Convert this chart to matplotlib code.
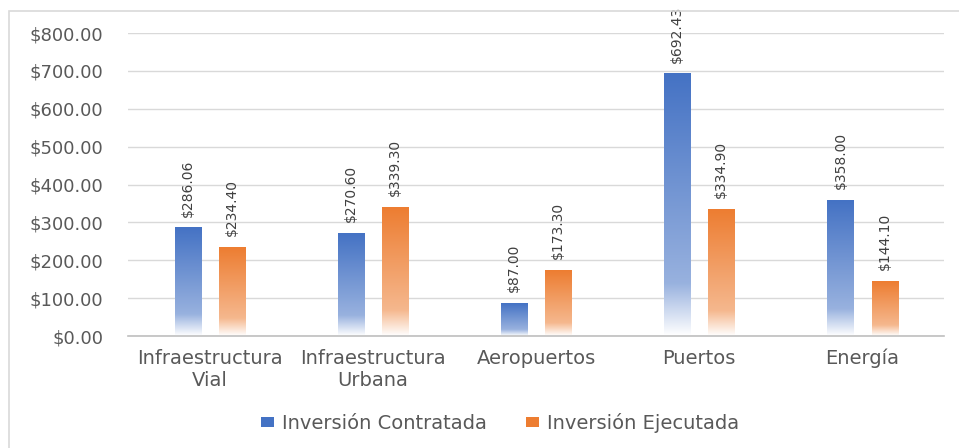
import matplotlib
matplotlib.use('Agg')
import matplotlib.pyplot as plt
import numpy as np
from matplotlib.colors import to_rgb
from matplotlib.patches import Rectangle

# data
categories = ['Infraestructura\nVial', 'Infraestructura\nUrbana', 'Aeropuertos', 'Puertos', 'Energía']
contratada = [286.06, 270.60, 87.00, 692.43, 358.00]
ejecutada = [234.40, 339.30, 173.30, 334.90, 144.10]
series_names = ['Inversión Contratada', 'Inversión Ejecutada']
series_colors = ['#4472C4', '#ED7D31']
yticks = [0, 100, 200, 300, 400, 500, 600, 700, 800]

TEXT_GRAY = '#595959'
GRID_GRAY = '#D9D9D9'


def gradient_image(color):
    # solid at the top, lighter toward the bottom, white at the base
    t = np.linspace(0, 1, 256)
    f = np.where(t < 0.8, 1 - 0.45 * (t / 0.8), 0.55 * (1 - (t - 0.8) / 0.2))
    rgb = np.array(to_rgb(color))
    img = f[:, None] * rgb[None, :] + (1 - f[:, None]) * np.ones(3)[None, :]
    return img[:, None, :]


def draw_gradient_bars(ax, xs, values, width, color):
    img = gradient_image(color)
    for x, v in zip(xs, values):
        left = x - width / 2
        ax.imshow(img, extent=(left, left + width, 0, v), origin='upper',
                  aspect='auto', zorder=2, interpolation='bilinear')
        ax.annotate(f'${v:,.2f}', xy=(x, v), xytext=(0, 8), textcoords='offset points',
                    rotation=90, ha='center', va='bottom', fontsize=10,
                    color='#404040')


fig = plt.figure(figsize=(9.59, 4.48), dpi=100)
ax = fig.add_axes([0.1335, 0.25, 0.851, 0.6763])

# chart border
fig.patches.append(Rectangle((9 / 959, -0.05), 1.0, 1 - 11 / 448 + 0.05, transform=fig.transFigure,
                             fill=False, edgecolor=GRID_GRAY, linewidth=1.2))

x = np.arange(len(categories))
bar_w = 0.16
offset = 0.135
draw_gradient_bars(ax, x - offset, contratada, bar_w, series_colors[0])
draw_gradient_bars(ax, x + offset, ejecutada, bar_w, series_colors[1])

ax.set_xlim(-0.5, len(categories) - 0.5)
ax.set_ylim(0, 800)
ax.set_yticks(yticks)
ax.set_yticklabels([f'${v:,.2f}' for v in yticks])
ax.set_xticks(x)
ax.set_xticklabels(categories)
ax.tick_params(axis='y', length=0, pad=18, labelsize=13, labelcolor=TEXT_GRAY)
ax.tick_params(axis='x', length=0, pad=9, labelsize=14, labelcolor=TEXT_GRAY)

ax.yaxis.grid(True, color=GRID_GRAY, linewidth=1)
ax.set_axisbelow(True)
for side in ['top', 'right', 'left']:
    ax.spines[side].set_visible(False)
ax.spines['bottom'].set_color('#BFBFBF')
ax.spines['bottom'].set_linewidth(1.2)
ax.spines['bottom'].set_zorder(3)

handles = [Rectangle((0, 0), 1, 1, facecolor=c, edgecolor='none') for c in series_colors]
fig.legend(handles, series_names, loc='center', bbox_to_anchor=(500 / 959, 1 - 423 / 448),
           ncol=2, frameon=False, fontsize=14, labelcolor=TEXT_GRAY,
           handlelength=0.7, handleheight=0.4, handletextpad=0.4, columnspacing=2.0)

fig.savefig('out.png', dpi=100)
